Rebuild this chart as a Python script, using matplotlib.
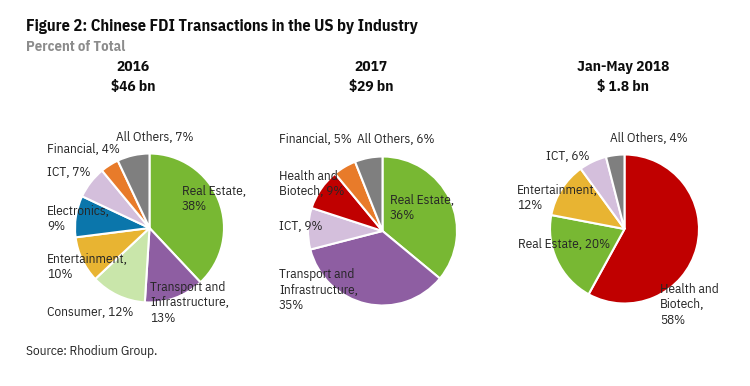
"""Chinese FDI transactions in the US by industry, three pies."""

import matplotlib
matplotlib.use("Agg")
import matplotlib.pyplot as plt

W, H = 750, 386
FONT = ["IBM Plex Sans Condensed", "DejaVu Sans"]

COLORS = {
    "Real Estate": "#78b833",
    "Transport and Infrastructure": "#8e5ea2",
    "Consumer": "#c9e6aa",
    "Entertainment": "#e8b432",
    "Electronics": "#0b76ab",
    "ICT": "#d4bfdc",
    "Financial": "#e87b2a",
    "All Others": "#7f7f7f",
    "Health and Biotech": "#c00000",
}

# data, clockwise from 12 o'clock
cats_2016 = ["Real Estate", "Transport and Infrastructure", "Consumer", "Entertainment",
             "Electronics", "ICT", "Financial", "All Others"]
vals_2016 = [38, 13, 12, 10, 9, 7, 4, 7]

cats_2017 = ["Real Estate", "Transport and Infrastructure", "ICT", "Health and Biotech",
             "Financial", "All Others"]
vals_2017 = [36, 35, 9, 9, 5, 6]

cats_2018 = ["Health and Biotech", "Real Estate", "Entertainment", "ICT", "All Others"]
vals_2018 = [58, 20, 12, 6, 4]

years = ["2016", "2017", "Jan-May 2018"]
totals = ["$46 bn", "$29 bn", "$ 1.8 bn"]

# label text layout per slice (line breaks) and anchor (left x, centre y) in pixels
LABELS_2016 = {
    "Real Estate": ("Real Estate,\n{}%", 182, 199),
    "Transport and Infrastructure": ("Transport and\nInfrastructure,\n{}%", 150, 303),
    "Consumer": ("Consumer, {}%", 47, 312),
    "Entertainment": ("Entertainment,\n{}%", 47, 267),
    "Electronics": ("Electronics,\n{}%", 47, 219),
    "ICT": ("ICT, {}%", 47, 172),
    "Financial": ("Financial, {}%", 47, 149),
    "All Others": ("All Others, {}%", 116, 138),
}
LABELS_2017 = {
    "Real Estate": ("Real Estate,\n{}%", 390, 208),
    "Transport and Infrastructure": ("Transport and\nInfrastructure,\n{}%", 279, 290),
    "ICT": ("ICT, {}%", 279, 227),
    "Health and Biotech": ("Health and\nBiotech, {}%", 279, 184),
    "Financial": ("Financial, {}%", 279, 140),
    "All Others": ("All Others, {}%", 357, 140),
}
LABELS_2018 = {
    "Health and Biotech": ("Health and\nBiotech,\n{}%", 660, 305),
    "Real Estate": ("Real Estate, {}%", 518, 245),
    "Entertainment": ("Entertainment,\n{}%", 517, 198),
    "ICT": ("ICT, {}%", 546, 156),
    "All Others": ("All Others, {}%", 610, 139),
}

PIES = [
    (cats_2016, vals_2016, LABELS_2016, 149.5, 228, 133),
    (cats_2017, vals_2017, LABELS_2017, 382.5, 231, 371),
    (cats_2018, vals_2018, LABELS_2018, 624.5, 229, 623),
]
RADIUS = 74.5


def fx(px):
    return px / W


def fy(py):
    return 1 - py / H


fig = plt.figure(figsize=(W / 100, H / 100), dpi=100)
fig.patch.set_facecolor("white")

fig.text(fx(26), fy(26), "Figure 2: Chinese FDI Transactions in the US by Industry",
         fontsize=11.8, fontweight="bold", family=FONT, va="center", ha="left",
         color="#0d0d0d")
fig.text(fx(26), fy(47), "Percent of Total", fontsize=10.5, fontweight="bold",
         family=FONT, va="center", ha="left", color="#8c8c8c")

for (cats, vals, labels, cx, cy, tx), year, total in zip(PIES, years, totals):
    ax = fig.add_axes([fx(cx - RADIUS), fy(cy + RADIUS), 2 * RADIUS / W, 2 * RADIUS / H])
    ax.pie(vals, colors=[COLORS[c] for c in cats], startangle=90, counterclock=False,
           radius=1, wedgeprops={"edgecolor": "white", "linewidth": 1.5})
    ax.set_xlim(-1, 1)
    ax.set_ylim(-1, 1)
    ax.set_aspect("auto")
    ax.axis("off")
    fig.text(fx(tx), fy(67), year, fontsize=11, fontweight="bold", family=FONT,
             ha="center", va="center", color="#0d0d0d")
    fig.text(fx(tx), fy(87), total, fontsize=11, fontweight="bold", family=FONT,
             ha="center", va="center", color="#0d0d0d")
    for cat, val in zip(cats, vals):
        fmt, lx, ly = labels[cat]
        fig.text(fx(lx), fy(ly), fmt.format(val), fontsize=9.5, family=FONT,
                 ha="left", va="center", color="#262626", linespacing=1.25,
                 zorder=10)

fig.text(fx(26), fy(352), "Source: Rhodium Group.", fontsize=9.5, family=FONT,
         ha="left", va="center", color="#262626")

fig.savefig("out.png", dpi=100)
